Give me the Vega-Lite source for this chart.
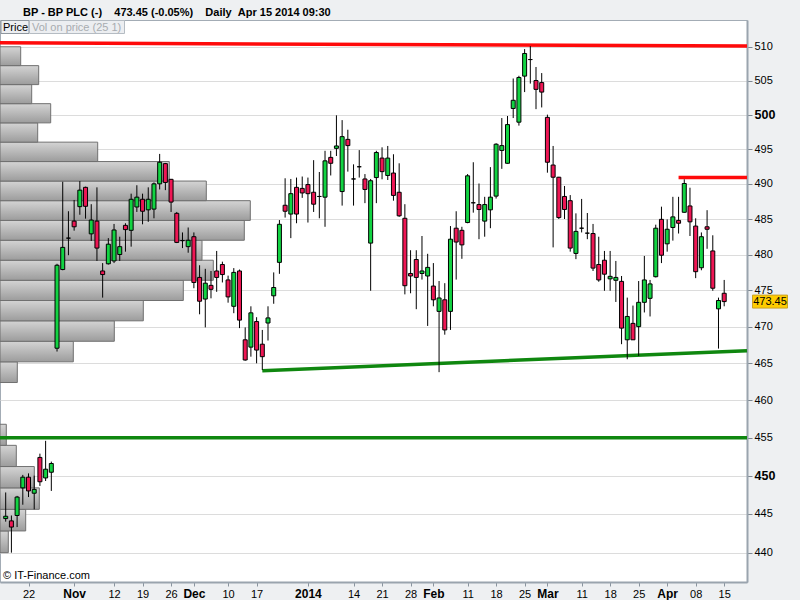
{
"$schema": "https://vega.github.io/schema/vega-lite/v6.json",
"width": 747, "height": 562,
"autosize": "none",
"padding": {"left": 0, "top": 20, "right": 53, "bottom": 18},
"background": "#eef0f2",
"view": {"fill": "white", "stroke": "#a3acb5", "strokeWidth": 1},
"datasets": {
"vop": [
{"lo":440.0,"hi":442.8,"vol":1.66},{"lo":442.8,"hi":445.6,"vol":5.14},{"lo":445.6,"hi":448.4,"vol":7.86},{"lo":448.4,"hi":451.2,"vol":6.86},{"lo":451.2,"hi":454.0,"vol":3.26},{"lo":454.0,"hi":456.8,"vol":1.26},{"lo":462.4,"hi":465.2,"vol":3.46},{"lo":465.2,"hi":468.0,"vol":14.66},{"lo":468.0,"hi":470.8,"vol":22.86},{"lo":470.8,"hi":473.6,"vol":28.66},{"lo":473.6,"hi":476.4,"vol":36.66},{"lo":476.4,"hi":479.2,"vol":42.66},{"lo":479.2,"hi":482.0,"vol":40.4},{"lo":482.0,"hi":484.8,"vol":48.86},{"lo":484.8,"hi":487.6,"vol":50.06},{"lo":487.6,"hi":490.4,"vol":41.26},{"lo":490.4,"hi":493.2,"vol":33.86},{"lo":493.2,"hi":496.0,"vol":19.54},{"lo":496.0,"hi":498.8,"vol":7.54},{"lo":498.8,"hi":501.6,"vol":10.14},{"lo":501.6,"hi":504.4,"vol":6.34},{"lo":504.4,"hi":507.2,"vol":7.74},{"lo":507.2,"hi":510.0,"vol":4.14}
],
"lines": [
{"id":"r1","d":"2013-10-15","p":510.6},{"id":"r1","d":"2014-04-23","p":510.1},
{"id":"r2","d":"2014-04-03","p":490.9},{"id":"r2","d":"2014-04-23","p":490.9},
{"id":"g1","d":"2013-12-18","p":464.0},{"id":"g1","d":"2014-04-23","p":466.7},
{"id":"g2","d":"2013-10-15","p":455.0},{"id":"g2","d":"2014-04-23","p":455.0}
],
"candles": [
{"d":"2013-10-16","o":444.4,"h":447.8,"l":444.0,"c":444.7},
{"d":"2013-10-17","o":444.1,"h":444.8,"l":440.0,"c":443.3},
{"d":"2013-10-18","o":444.8,"h":447.35,"l":443.3,"c":447.2},
{"d":"2013-10-21","o":448.4,"h":450.1,"l":446.2,"c":449.8},
{"d":"2013-10-22","o":449.8,"h":450.3,"l":447.2,"c":448.0},
{"d":"2013-10-23","o":447.7,"h":450.0,"l":445.6,"c":448.2},
{"d":"2013-10-24","o":452.4,"h":452.9,"l":448.65,"c":449.2},
{"d":"2013-10-25","o":449.7,"h":454.6,"l":449.3,"c":450.85},
{"d":"2013-10-28","o":450.45,"h":451.85,"l":448.0,"c":451.6},
{"d":"2013-10-29","o":467.05,"h":478.7,"l":466.6,"c":478.5},
{"d":"2013-10-30","o":477.9,"h":490.3,"l":477.8,"c":481.0},
{"d":"2013-10-31","o":482.3,"h":486.1,"l":479.9,"c":482.3},
{"d":"2013-11-01","o":484.7,"h":487.7,"l":483.35,"c":483.9},
{"d":"2013-11-04","o":486.75,"h":490.4,"l":485.6,"c":489.1},
{"d":"2013-11-05","o":489.5,"h":489.6,"l":485.05,"c":486.8},
{"d":"2013-11-06","o":482.9,"h":487.1,"l":481.9,"c":484.85},
{"d":"2013-11-07","o":484.7,"h":489.5,"l":479.1,"c":480.9},
{"d":"2013-11-08","o":477.7,"h":478.8,"l":474.0,"c":477.2},
{"d":"2013-11-11","o":478.7,"h":482.3,"l":478.6,"c":481.45},
{"d":"2013-11-12","o":479.1,"h":484.3,"l":478.8,"c":483.45},
{"d":"2013-11-13","o":480.0,"h":482.5,"l":479.1,"c":481.1},
{"d":"2013-11-14","o":484.1,"h":484.4,"l":480.4,"c":483.5},
{"d":"2013-11-15","o":483.4,"h":488.6,"l":481.1,"c":487.8},
{"d":"2013-11-18","o":486.7,"h":489.8,"l":486.0,"c":488.1},
{"d":"2013-11-19","o":487.8,"h":488.6,"l":484.25,"c":486.1},
{"d":"2013-11-20","o":486.3,"h":489.5,"l":484.6,"c":487.8},
{"d":"2013-11-21","o":486.4,"h":490.2,"l":485.1,"c":490.0},
{"d":"2013-11-22","o":490.0,"h":494.3,"l":489.2,"c":493.1},
{"d":"2013-11-25","o":492.9,"h":493.0,"l":489.1,"c":490.2},
{"d":"2013-11-26","o":490.65,"h":490.7,"l":486.0,"c":487.4},
{"d":"2013-11-27","o":485.8,"h":486.0,"l":481.6,"c":481.7},
{"d":"2013-11-28","o":481.95,"h":483.1,"l":480.9,"c":481.95},
{"d":"2013-11-29","o":481.1,"h":483.8,"l":480.25,"c":482.0},
{"d":"2013-12-02","o":482.5,"h":483.1,"l":475.3,"c":476.1},
{"d":"2013-12-03","o":476.8,"h":478.5,"l":471.7,"c":473.5},
{"d":"2013-12-04","o":473.8,"h":478.0,"l":469.9,"c":476.0},
{"d":"2013-12-05","o":475.7,"h":477.7,"l":473.9,"c":475.15},
{"d":"2013-12-06","o":477.7,"h":480.5,"l":474.8,"c":476.8},
{"d":"2013-12-09","o":478.6,"h":479.0,"l":476.1,"c":477.2},
{"d":"2013-12-10","o":476.45,"h":477.05,"l":473.3,"c":474.1},
{"d":"2013-12-11","o":472.8,"h":478.1,"l":471.85,"c":477.5},
{"d":"2013-12-12","o":477.7,"h":477.9,"l":469.8,"c":470.9},
{"d":"2013-12-13","o":468.2,"h":469.9,"l":465.35,"c":465.45},
{"d":"2013-12-16","o":467.2,"h":472.8,"l":465.9,"c":471.9},
{"d":"2013-12-17","o":470.7,"h":471.3,"l":465.0,"c":466.8},
{"d":"2013-12-18","o":467.6,"h":469.55,"l":464.1,"c":465.9},
{"d":"2013-12-19","o":470.5,"h":472.8,"l":468.1,"c":471.2},
{"d":"2013-12-20","o":474.25,"h":477.5,"l":473.15,"c":475.4},
{"d":"2013-12-23","o":478.9,"h":484.85,"l":477.3,"c":484.25},
{"d":"2013-12-24","o":486.95,"h":490.8,"l":485.2,"c":486.1},
{"d":"2013-12-27","o":485.7,"h":490.7,"l":482.3,"c":488.6},
{"d":"2013-12-30","o":489.5,"h":490.9,"l":484.4,"c":485.7},
{"d":"2013-12-31","o":489.35,"h":491.05,"l":488.0,"c":488.7},
{"d":"2014-01-02","o":489.9,"h":490.9,"l":484.5,"c":488.6},
{"d":"2014-01-03","o":488.8,"h":493.4,"l":486.0,"c":487.1},
{"d":"2014-01-06","o":488.2,"h":491.7,"l":485.1,"c":488.2},
{"d":"2014-01-07","o":488.1,"h":494.75,"l":483.9,"c":493.3},
{"d":"2014-01-08","o":493.8,"h":494.75,"l":491.2,"c":492.95},
{"d":"2014-01-09","o":495.1,"h":499.9,"l":494.0,"c":495.45},
{"d":"2014-01-10","o":488.9,"h":499.2,"l":486.9,"c":496.8},
{"d":"2014-01-13","o":496.4,"h":497.8,"l":491.75,"c":495.5},
{"d":"2014-01-14","o":490.7,"h":492.8,"l":486.9,"c":490.7},
{"d":"2014-01-15","o":492.45,"h":494.85,"l":490.9,"c":492.45},
{"d":"2014-01-16","o":490.7,"h":491.4,"l":487.25,"c":489.2},
{"d":"2014-01-17","o":481.6,"h":490.7,"l":474.95,"c":490.45},
{"d":"2014-01-20","o":490.9,"h":494.75,"l":487.25,"c":494.5},
{"d":"2014-01-21","o":493.7,"h":495.25,"l":490.65,"c":491.75},
{"d":"2014-01-22","o":491.2,"h":495.45,"l":490.55,"c":493.7},
{"d":"2014-01-23","o":491.55,"h":494.25,"l":487.6,"c":488.35},
{"d":"2014-01-24","o":488.8,"h":492.95,"l":485.3,"c":485.45},
{"d":"2014-01-27","o":485.1,"h":487.1,"l":474.45,"c":475.65},
{"d":"2014-01-28","o":477.35,"h":480.6,"l":474.6,"c":477.0},
{"d":"2014-01-29","o":479.3,"h":480.6,"l":472.4,"c":476.8},
{"d":"2014-01-30","o":477.35,"h":482.6,"l":476.5,"c":477.7},
{"d":"2014-01-31","o":477.0,"h":480.1,"l":470.1,"c":478.2},
{"d":"2014-02-03","o":475.6,"h":478.8,"l":472.8,"c":473.7},
{"d":"2014-02-04","o":472.1,"h":476.3,"l":463.8,"c":473.95},
{"d":"2014-02-05","o":473.7,"h":476.0,"l":468.9,"c":469.55},
{"d":"2014-02-06","o":472.1,"h":484.0,"l":469.55,"c":482.15},
{"d":"2014-02-07","o":483.7,"h":486.1,"l":476.5,"c":481.75},
{"d":"2014-02-10","o":483.4,"h":483.9,"l":479.4,"c":481.35},
{"d":"2014-02-11","o":484.5,"h":491.4,"l":484.4,"c":491.15},
{"d":"2014-02-12","o":487.3,"h":493.1,"l":485.9,"c":487.3},
{"d":"2014-02-13","o":487.05,"h":490.05,"l":482.15,"c":486.35},
{"d":"2014-02-14","o":484.7,"h":488.15,"l":482.5,"c":487.05},
{"d":"2014-02-17","o":486.3,"h":492.4,"l":483.7,"c":488.1},
{"d":"2014-02-18","o":488.25,"h":495.85,"l":487.9,"c":495.7},
{"d":"2014-02-19","o":494.8,"h":499.5,"l":492.15,"c":495.5},
{"d":"2014-02-20","o":492.95,"h":499.8,"l":492.9,"c":498.55},
{"d":"2014-02-21","o":500.9,"h":505.3,"l":499.5,"c":502.1},
{"d":"2014-02-24","o":498.9,"h":505.7,"l":498.4,"c":505.45},
{"d":"2014-02-25","o":505.65,"h":509.65,"l":503.3,"c":509.0},
{"d":"2014-02-26","o":508.1,"h":510.1,"l":504.55,"c":508.1},
{"d":"2014-02-27","o":505.0,"h":507.0,"l":500.8,"c":503.7},
{"d":"2014-02-28","o":504.7,"h":506.1,"l":501.05,"c":503.3},
{"d":"2014-03-03","o":499.6,"h":500.0,"l":491.6,"c":493.1},
{"d":"2014-03-04","o":492.7,"h":495.45,"l":481.0,"c":490.95},
{"d":"2014-03-05","o":490.95,"h":491.0,"l":485.0,"c":485.2},
{"d":"2014-03-06","o":488.2,"h":489.7,"l":485.0,"c":486.35},
{"d":"2014-03-07","o":487.6,"h":488.4,"l":480.4,"c":480.9},
{"d":"2014-03-10","o":480.15,"h":485.8,"l":479.35,"c":483.25},
{"d":"2014-03-11","o":483.7,"h":487.85,"l":483.1,"c":483.7},
{"d":"2014-03-12","o":483.0,"h":485.85,"l":482.15,"c":483.0},
{"d":"2014-03-13","o":482.95,"h":484.3,"l":477.7,"c":478.1},
{"d":"2014-03-14","o":478.6,"h":482.5,"l":476.2,"c":476.45},
{"d":"2014-03-17","o":479.2,"h":480.5,"l":474.95,"c":477.25},
{"d":"2014-03-18","o":476.6,"h":480.5,"l":474.95,"c":476.95},
{"d":"2014-03-19","o":476.4,"h":479.1,"l":473.4,"c":476.8},
{"d":"2014-03-20","o":476.25,"h":477.0,"l":467.6,"c":469.8},
{"d":"2014-03-21","o":468.2,"h":474.0,"l":465.55,"c":471.4},
{"d":"2014-03-24","o":470.45,"h":472.9,"l":468.2,"c":468.2},
{"d":"2014-03-25","o":470.0,"h":476.3,"l":466.0,"c":473.35},
{"d":"2014-03-26","o":473.35,"h":479.8,"l":471.95,"c":476.45},
{"d":"2014-03-27","o":473.9,"h":476.45,"l":471.4,"c":475.9},
{"d":"2014-03-28","o":476.9,"h":484.2,"l":476.8,"c":483.7},
{"d":"2014-03-31","o":484.95,"h":486.75,"l":478.8,"c":479.9},
{"d":"2014-04-01","o":481.5,"h":484.95,"l":480.4,"c":483.55},
{"d":"2014-04-02","o":483.8,"h":488.15,"l":481.95,"c":485.3},
{"d":"2014-04-03","o":484.8,"h":488.15,"l":482.95,"c":484.4},
{"d":"2014-04-04","o":485.95,"h":490.65,"l":485.9,"c":490.05},
{"d":"2014-04-07","o":486.85,"h":489.45,"l":482.6,"c":484.6},
{"d":"2014-04-08","o":484.0,"h":485.1,"l":476.7,"c":477.6},
{"d":"2014-04-09","o":478.15,"h":483.1,"l":477.8,"c":482.5},
{"d":"2014-04-10","o":483.9,"h":486.25,"l":480.8,"c":483.55},
{"d":"2014-04-11","o":480.5,"h":482.7,"l":474.95,"c":475.3},
{"d":"2014-04-14","o":472.45,"h":474.0,"l":467.0,"c":473.6},
{"d":"2014-04-15","o":474.6,"h":476.45,"l":472.8,"c":473.45}
]
},
"layer": [
{
"data": {"name": "vop"},
"mark": {"type": "rect", "stroke": "#707070", "strokeWidth": 1, "fill": {"gradient": "linear", "x1": 0, "y1": 0, "x2": 0, "y2": 1, "stops": [{"offset": 0, "color": "#d4d4d4"}, {"offset": 1, "color": "#9c9c9c"}]}},
"encoding": {
"x": {"field": "vol", "type": "quantitative", "scale": {"domain": [0, 149.4], "nice": false, "zero": true}, "axis": null},
"x2": {"datum": 0},
"y": {"field": "hi", "type": "quantitative", "title": null,
"scale": {"type": "log", "domain": [436.25, 514.0], "nice": false},
"axis": {"orient": "right", "values": [440,445,450,455,460,465,470,475,480,485,490,495,500,505,510], "format": "d", "grid": true, "gridColor": "#dcdcdc", "gridWidth": 1, "tickColor": "#7d8791", "tickSize": 5, "tickWidth": 1, "labelPadding": 2, "labelColor": "#000", "labelFont": "Liberation Sans", "labelBaseline": "middle",
"labelFontSize": {"condition": {"test": "datum.value == 450 || datum.value == 500", "value": 12.5}, "value": 11},
"labelFontWeight": {"condition": {"test": "datum.value == 450 || datum.value == 500", "value": "bold"}, "value": "normal"},
"domainColor": "#9aa4ae", "domainWidth": 2, "title": null, "labelBound": false, "labelOverlap": false}},
"y2": {"field": "lo"}
}
},
{
"encoding": {"x": {"field": "d", "type": "ordinal", "title": null,
"scale": {"type": "point", "padding": 0, "domain": ["2013-10-15","2013-10-16","2013-10-17","2013-10-18","2013-10-21","2013-10-22","2013-10-23","2013-10-24","2013-10-25","2013-10-28","2013-10-29","2013-10-30","2013-10-31","2013-11-01","2013-11-04","2013-11-05","2013-11-06","2013-11-07","2013-11-08","2013-11-11","2013-11-12","2013-11-13","2013-11-14","2013-11-15","2013-11-18","2013-11-19","2013-11-20","2013-11-21","2013-11-22","2013-11-25","2013-11-26","2013-11-27","2013-11-28","2013-11-29","2013-12-02","2013-12-03","2013-12-04","2013-12-05","2013-12-06","2013-12-09","2013-12-10","2013-12-11","2013-12-12","2013-12-13","2013-12-16","2013-12-17","2013-12-18","2013-12-19","2013-12-20","2013-12-23","2013-12-24","2013-12-27","2013-12-30","2013-12-31","2014-01-02","2014-01-03","2014-01-06","2014-01-07","2014-01-08","2014-01-09","2014-01-10","2014-01-13","2014-01-14","2014-01-15","2014-01-16","2014-01-17","2014-01-20","2014-01-21","2014-01-22","2014-01-23","2014-01-24","2014-01-27","2014-01-28","2014-01-29","2014-01-30","2014-01-31","2014-02-03","2014-02-04","2014-02-05","2014-02-06","2014-02-07","2014-02-10","2014-02-11","2014-02-12","2014-02-13","2014-02-14","2014-02-17","2014-02-18","2014-02-19","2014-02-20","2014-02-21","2014-02-24","2014-02-25","2014-02-26","2014-02-27","2014-02-28","2014-03-03","2014-03-04","2014-03-05","2014-03-06","2014-03-07","2014-03-10","2014-03-11","2014-03-12","2014-03-13","2014-03-14","2014-03-17","2014-03-18","2014-03-19","2014-03-20","2014-03-21","2014-03-24","2014-03-25","2014-03-26","2014-03-27","2014-03-28","2014-03-31","2014-04-01","2014-04-02","2014-04-03","2014-04-04","2014-04-07","2014-04-08","2014-04-09","2014-04-10","2014-04-11","2014-04-14","2014-04-15","2014-04-16","2014-04-17","2014-04-22","2014-04-23"]},
"axis": {"values": ["2013-10-22","2013-11-01","2013-11-12","2013-11-19","2013-11-26","2013-12-02","2013-12-10","2013-12-17","2014-01-02","2014-01-14","2014-01-21","2014-01-28","2014-02-03","2014-02-11","2014-02-18","2014-02-25","2014-03-03","2014-03-11","2014-03-18","2014-03-25","2014-04-01","2014-04-08","2014-04-15"],
"labelExpr": "datum.value == '2013-11-01' ? 'Nov' : datum.value == '2013-12-02' ? 'Dec' : datum.value == '2014-01-02' ? '2014' : datum.value == '2014-02-03' ? 'Feb' : datum.value == '2014-03-03' ? 'Mar' : datum.value == '2014-04-01' ? 'Apr' : slice(datum.value, 8)",
"labelFontSize": {"condition": {"test": "indexof(['2013-11-01','2013-12-02','2014-01-02','2014-02-03','2014-03-03','2014-04-01'], datum.value) >= 0", "value": 12}, "value": 11},
"labelFontWeight": {"condition": {"test": "indexof(['2013-11-01','2013-12-02','2014-01-02','2014-02-03','2014-03-03','2014-04-01'], datum.value) >= 0", "value": "bold"}, "value": "normal"},
"labelFont": "Liberation Sans", "labelColor": "#000", "labelAngle": 0, "labelPadding": 2, "labelOverlap": false, "labelBound": false,
"tickSize": 4, "tickColor": "#8a949e", "domainColor": "#9aa4ae", "domainWidth": 2, "grid": false, "title": null}}},
"layer": [
{"data": {"name": "lines"}, "mark": {"type": "line", "strokeWidth": 3.5},
"encoding": {"y": {"field": "p", "type": "quantitative", "title": null},
"color": {"field": "id", "type": "nominal", "scale": {"domain": ["r1","r2","g1","g2"], "range": ["#ff0a0a","#ff0a0a","#0f870f","#0f870f"]}, "legend": null}}},
{"data": {"name": "candles"}, "mark": {"type": "rule", "color": "#000", "strokeWidth": 1},
"encoding": {"y": {"field": "l", "type": "quantitative", "title": null}, "y2": {"field": "h"}}},
{"data": {"name": "candles"}, "mark": {"type": "bar", "width": 4, "stroke": "#000", "strokeWidth": 1},
"encoding": {"y": {"field": "o", "type": "quantitative", "title": null}, "y2": {"field": "c"},
"fill": {"condition": {"test": "datum.c >= datum.o", "value": "#12d342"}, "value": "#ee1654"}}},
{"data": {"values": [{}]}, "mark": {"type": "point", "shape": "M-1,-0.464H1V0.464H-1Z", "size": 784, "filled": true, "fill": "#eceef1", "stroke": "#8e969e", "strokeWidth": 1, "opacity": 1, "xOffset": 15},
"encoding": {"x": {"datum": "2013-10-15", "type": "ordinal"}, "y": {"datum": 512.95, "type": "quantitative"}}},
{"data": {"values": [{}]}, "mark": {"type": "point", "shape": "M-1,-0.137H1V0.137H-1Z", "size": 9025, "filled": true, "fill": "#eceef1", "stroke": "#b5bcc3", "strokeWidth": 1, "opacity": 1, "xOffset": 77},
"encoding": {"x": {"datum": "2013-10-15", "type": "ordinal"}, "y": {"datum": 512.95, "type": "quantitative"}}},
{"data": {"values": [{}]}, "mark": {"type": "text", "text": "Price", "align": "left", "baseline": "alphabetic", "dx": 3, "font": "Liberation Sans", "fontSize": 11, "color": "#000"},
"encoding": {"x": {"datum": "2013-10-15", "type": "ordinal"}, "y": {"datum": 512.4, "type": "quantitative"}}},
{"data": {"values": [{}]}, "mark": {"type": "text", "text": "Vol on price (25 1)", "align": "left", "baseline": "alphabetic", "dx": 32, "font": "Liberation Sans", "fontSize": 11, "color": "#a8acb0"},
"encoding": {"x": {"datum": "2013-10-15", "type": "ordinal"}, "y": {"datum": 512.4, "type": "quantitative"}}},
{"data": {"values": [{}]}, "mark": {"type": "text", "text": "BP - BP PLC (-)\u00a0\u00a0\u00a0\u00a0473.45 (-0.05%)\u00a0\u00a0\u00a0\u00a0Daily\u00a0\u00a0Apr 15 2014 09:30", "align": "left", "baseline": "alphabetic", "dx": 23, "font": "Liberation Sans", "fontSize": 11, "fontWeight": "bold", "color": "#000"},
"encoding": {"x": {"datum": "2013-10-15", "type": "ordinal"}, "y": {"datum": 514.67, "type": "quantitative"}}},
{"data": {"values": [{}]}, "mark": {"type": "text", "text": "© IT-Finance.com", "align": "left", "baseline": "alphabetic", "dx": 3, "font": "Liberation Sans", "fontSize": 11, "color": "#000"},
"encoding": {"x": {"datum": "2013-10-15", "type": "ordinal"}, "y": {"datum": 436.6, "type": "quantitative"}}},
{"data": {"values": [{}]}, "mark": {"type": "point", "shape": "M-1,-0.371H1V0.371H-1Z", "size": 1225, "filled": true, "fill": "#ffcc00", "stroke": "#c9a227", "strokeWidth": 1, "opacity": 1, "xOffset": 23},
"encoding": {"x": {"datum": "2014-04-23", "type": "ordinal"}, "y": {"datum": 473.45, "type": "quantitative"}}},
{"data": {"values": [{}]}, "mark": {"type": "text", "text": "473.45", "align": "center", "baseline": "middle", "dx": 23, "font": "Liberation Sans", "fontSize": 11, "color": "#000"},
"encoding": {"x": {"datum": "2014-04-23", "type": "ordinal"}, "y": {"datum": 473.45, "type": "quantitative"}}}
]
}
],
"resolve": {"scale": {"x": "independent"}}
}
